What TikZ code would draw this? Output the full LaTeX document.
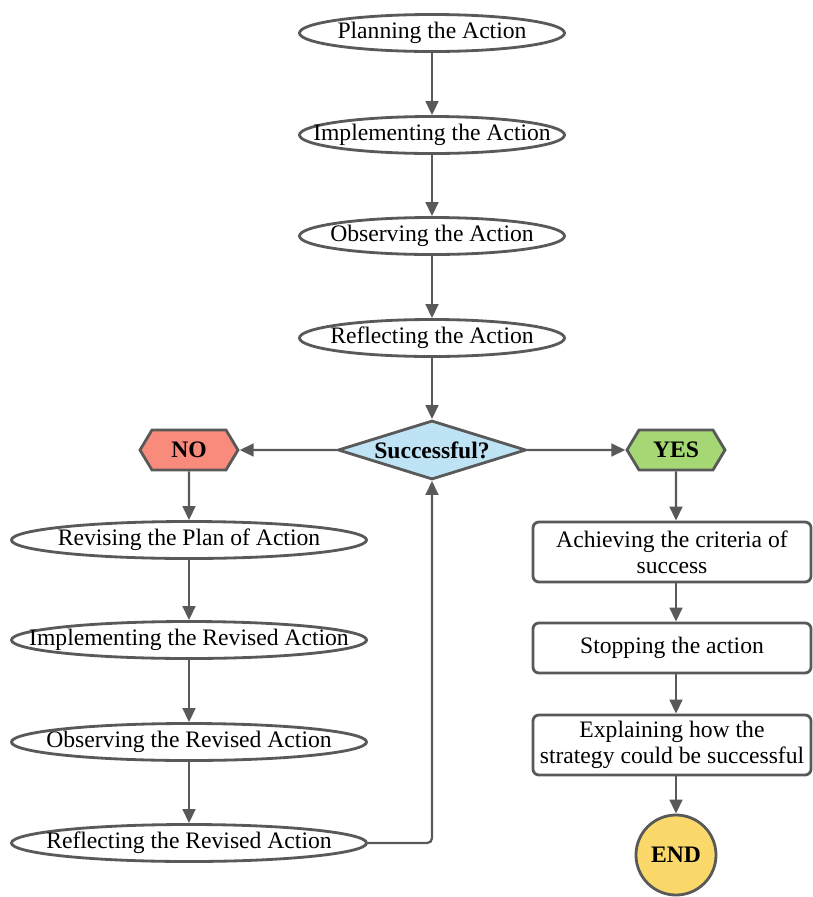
\documentclass[tikz,border=0pt]{standalone}
\usepackage{fontspec}
\setmainfont{Liberation Serif}
\usepackage{xcolor}
\usetikzlibrary{arrows.meta,positioning,calc,shapes.geometric,shapes.symbols}

\definecolor{edge}{HTML}{595959}
\definecolor{askfill}{HTML}{BDE3F5}
\definecolor{nofill}{HTML}{F88B7B}
\definecolor{yesfill}{HTML}{A5D874}
\definecolor{endfill}{HTML}{FBD86A}

\newcommand{\flowfont}{\fontsize{16.8}{18.5}\selectfont}

\tikzset{
  oval/.style={ellipse,draw=edge,line width=2pt,fill=white,minimum width=6.625cm,minimum height=0.925cm,inner xsep=-1.3cm,inner ysep=0pt},
  wideoval/.style={oval,minimum width=8.875cm},
  box/.style={rectangle,draw=edge,line width=2pt,rounded corners=0.15cm,fill=white,minimum width=6.95cm,minimum height=1.5cm,align=center,inner sep=0pt},
  decision/.style={diamond,aspect=3.2,draw=edge,line width=2pt,fill=askfill,minimum width=4.7cm,minimum height=1.475cm,inner sep=0pt,font=\flowfont\bfseries},
  tag/.style={signal,signal to=west and east,signal pointer angle=118,draw=edge,line width=2pt,minimum width=2.45cm,minimum height=1cm,inner sep=0pt,font=\flowfont\bfseries},
  arrow/.style={draw=edge,line width=1.6pt,-{Triangle[length=3.5mm,width=3.2mm]}}
}

\begin{document}
\begin{tikzpicture}[x=0.025cm,y=-0.025cm,font=\flowfont]
\useasboundingbox (0,0) rectangle (812,897);
% main column
\node[oval] (plan) at (432,33) {Planning the Action};
\node[oval] (impl) at (432,135) {Implementing the Action};
\node[oval] (obs) at (432,236) {Observing the Action};
\node[oval] (refl) at (432,338) {Reflecting the Action};
\node[decision] (ask) at (432,450) {Successful?};
\node[tag,fill=nofill] (no) at (189,450) {NO};
\node[tag,fill=yesfill] (yes) at (676,450) {YES};
% NO branch
\node[wideoval] (rplan) at (189,540) {Revising the Plan of Action};
\node[wideoval] (rimpl) at (189,640) {Implementing the Revised Action};
\node[wideoval] (robs) at (189,742) {Observing the Revised Action};
\node[wideoval] (rrefl) at (189,843) {Reflecting the Revised Action};
% YES branch
\node[box] (crit) at (672,552) {Achieving the criteria of\\success};
\node[box,minimum height=1.25cm] (stop) at (672,648) {Stopping the action};
\node[box] (expl) at (672,745) {Explaining how the\\strategy could be successful};
\node[circle,draw=edge,line width=2pt,fill=endfill,minimum size=2cm,inner sep=0pt,font=\flowfont\bfseries] (end) at (676,855) {END};

\draw[arrow] (plan) -- (impl);
\draw[arrow] (impl) -- (obs);
\draw[arrow] (obs) -- (refl);
\draw[arrow] (refl) -- (ask);
\draw[arrow] (ask) -- (no);
\draw[arrow] (ask) -- (yes);
\draw[arrow] (no) -- (rplan);
\draw[arrow] (rplan) -- (rimpl);
\draw[arrow] (rimpl) -- (robs);
\draw[arrow] (robs) -- (rrefl);
\draw[arrow,rounded corners=0.12cm] (rrefl.east) -| (ask.south);
\draw[arrow] (yes) -- (yes |- crit.north);
\draw[arrow] (crit.south -| yes) -- (yes |- stop.north);
\draw[arrow] (stop.south -| yes) -- (yes |- expl.north);
\draw[arrow] (expl.south -| yes) -- (end);
\end{tikzpicture}
\end{document}
